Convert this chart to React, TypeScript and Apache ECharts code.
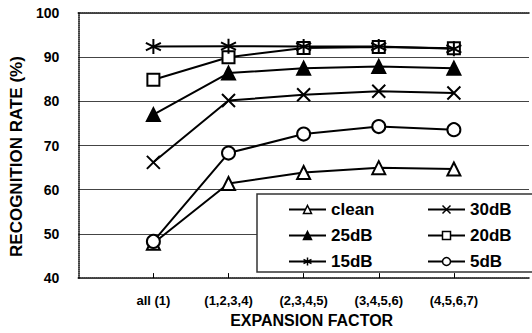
import React, { useEffect, useRef } from "react";
import * as echarts from "echarts";

const categories = ["", "all (1)", "(1,2,3,4)", "(2,3,4,5)", "(3,4,5,6)", "(4,5,6,7)", ""];
const clean = [null, 47.9, 61.4, 63.9, 65.0, 64.7, null];
const db30 = [null, 66.2, 80.2, 81.5, 82.3, 81.9, null];
const db25 = [null, 77.0, 86.4, 87.5, 87.9, 87.5, null];
const db20 = [null, 84.9, 90.0, 92.1, 92.3, 92.0, null];
const db15 = [null, 92.4, 92.5, 92.4, 92.4, 91.9, null];
const db5 = [null, 48.3, 68.3, 72.6, 74.3, 73.6, null];
const yTicks = { min: 40, max: 100, interval: 10 };

const FONT = "'Liberation Sans', Arial, sans-serif";
const SYM_X = "path://M0,0L10,10M10,0L0,10";
const SYM_AST = "path://M5,0L5,10M0.7,2.5L9.3,7.5M0.7,7.5L9.3,2.5";

function mk(name: string, data: (number | null)[], symbol: string, fill: string, size: number, z = 2) {
  return {
    name,
    type: "line",
    data,
    symbol,
    symbolSize: size,
    showSymbol: true,
    connectNulls: false,
    z,
    lineStyle: { color: "#000", width: 2 },
    itemStyle: { color: fill, borderColor: "#000", borderWidth: 2 },
    emphasis: { disabled: true },
  };
}

function legend(left: number, data: string[]) {
  return {
    orient: "vertical",
    left,
    top: 196,
    itemWidth: 37,
    itemHeight: 10,
    itemGap: 9,
    selectedMode: false,
    data,
    itemStyle: { borderWidth: 1.5 },
    textStyle: { fontSize: 17, fontWeight: "bold", color: "#000", fontFamily: FONT },
  };
}

export default function App() {
  const ref = useRef<HTMLDivElement>(null);
  useEffect(() => {
    if (!ref.current) return;
    const chart = echarts.init(ref.current, undefined, { renderer: "svg" });
    chart.setOption({
      animation: false,
      backgroundColor: "#fff",
      textStyle: { fontFamily: FONT, color: "#000" },
      grid: { left: 71, top: 13, width: 463, height: 267 },
      xAxis: [
        {
          type: "category",
          data: categories,
          boundaryGap: false,
          name: "EXPANSION FACTOR",
          nameLocation: "middle",
          nameGap: 33,
          nameTextStyle: { fontSize: 16, fontWeight: "bold", color: "#000", fontFamily: FONT, padding: [0, 0, 0, 16] },
          axisLine: { lineStyle: { color: "#000", width: 1.5, type: [1, 1] } },
          axisTick: {
            show: true,
            inside: true,
            length: 5,
            interval: (i: number) => i >= 1 && i <= 5,
            lineStyle: { color: "#000", width: 1 },
          },
          axisLabel: { fontSize: 13, fontWeight: "bold", color: "#000", margin: 16, interval: 0, fontFamily: FONT },
          splitLine: { show: false },
        },
        {
          type: "category",
          data: categories,
          position: "top",
          boundaryGap: false,
          axisLine: { show: true, lineStyle: { color: "#000", width: 1.5, type: [1, 1] } },
          axisTick: { show: false },
          axisLabel: { show: false },
          splitLine: { show: false },
        },
      ],
      yAxis: {
        type: "value",
        min: yTicks.min,
        max: yTicks.max,
        interval: yTicks.interval,
        name: "RECOGNITION RATE (%)",
        nameLocation: "middle",
        nameGap: 48,
        nameTextStyle: { fontSize: 17, fontWeight: "bold", color: "#000", fontFamily: FONT, padding: [0, 22, 0, 0] },
        axisLine: { show: true, lineStyle: { color: "#000", width: 1.5, type: [1, 1] } },
        axisTick: { show: false },
        axisLabel: { fontSize: 14, fontWeight: "bold", color: "#000", margin: 19, fontFamily: FONT },
        splitLine: {
          show: true,
          showMinLine: false,
          showMaxLine: false,
          lineStyle: { color: "#444", width: 1 },
        },
      },
      legend: [legend(283, ["clean", "25dB", "15dB"]), legend(422, ["30dB", "20dB", "5dB"])],
      graphic: [
        {
          type: "rect",
          z: 3,
          shape: { x: 257, y: 194, width: 300, height: 78 },
          style: { fill: "#fff", stroke: "#333", lineWidth: 1.5 },
        },
      ],
      series: [
        mk("clean", clean, "triangle", "#fff", 13),
        mk("30dB", db30, SYM_X, "#000", 13),
        mk("25dB", db25, "triangle", "#000", 13),
        mk("20dB", db20, "rect", "#fff", 12),
        mk("15dB", db15, SYM_AST, "#000", 15, 3),
        mk("5dB", db5, "circle", "#fff", 13),
      ],
    });
    return () => chart.dispose();
  }, []);
  return <div ref={ref} style={{ position: "absolute", left: 0, top: 0, width: 532, height: 333 }} />;
}
